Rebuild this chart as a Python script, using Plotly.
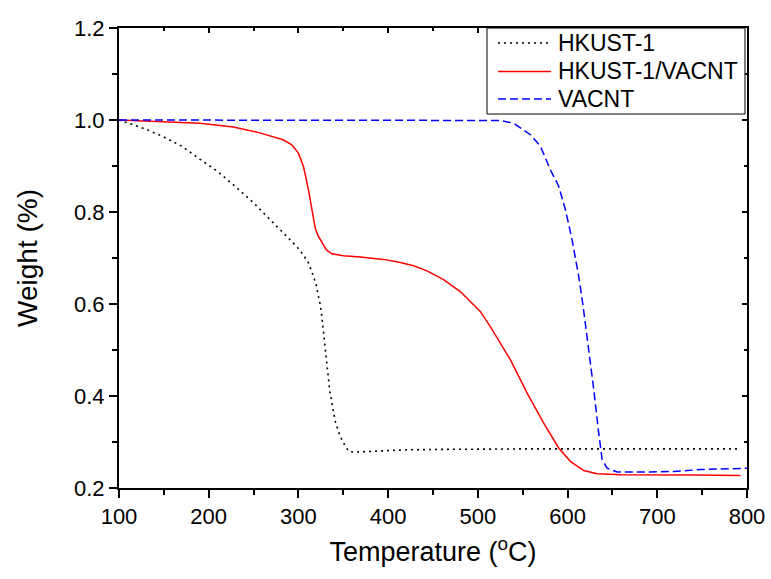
import plotly.graph_objects as go

# TGA curves: temperature (°C) vs. normalised weight
series_names = ["HKUST-1", "HKUST-1/VACNT", "VACNT"]

t_hkust = [100, 116, 130, 149, 170, 188.5, 210, 227.5, 250, 266.6, 282, 298, 305, 311,
           316.8, 320, 322.3, 324.2, 326.1, 330, 335, 341, 346, 350.2, 355.8, 361.4,
           380, 420, 460, 502.7, 550, 600, 700, 790]
w_hkust = [1.0, 0.99, 0.98, 0.964, 0.943, 0.917, 0.888, 0.859, 0.82, 0.787, 0.757, 0.725,
           0.708, 0.69, 0.66, 0.64, 0.617, 0.6, 0.573, 0.5, 0.41, 0.345, 0.315, 0.298,
           0.28, 0.278, 0.28, 0.283, 0.284, 0.285, 0.285, 0.285, 0.285, 0.285]

t_comp = [100, 150, 190, 227.5, 257, 283, 292.6, 300, 305.6, 311.2, 318.7, 322, 326.1,
          331, 337.3, 350, 368.9, 394.9, 413.5, 428.3, 443.2, 461.8, 480.4, 491.6, 502.7,
          513.9, 536.2, 554.8, 573.4, 590.1, 603.1, 618, 632.9, 660, 692.4, 740, 792.7]
w_comp = [1.0, 0.997, 0.993, 0.985, 0.972, 0.957, 0.946, 0.928, 0.899, 0.848, 0.765,
          0.748, 0.733, 0.718, 0.709, 0.705, 0.702, 0.697, 0.69, 0.683, 0.672, 0.653,
          0.627, 0.605, 0.584, 0.551, 0.479, 0.407, 0.341, 0.287, 0.258, 0.238, 0.231,
          0.229, 0.229, 0.228, 0.227]

t_cnt = [100, 300, 502.7, 525, 539.9, 558.5, 569.7, 580.8, 590.1, 597.6, 605, 612.4, 617,
         621.7, 629.2, 634.7, 638.5, 644, 655.2, 692.4, 718.4, 748, 800]
w_cnt = [1.0, 1.0, 1.0, 0.999, 0.993, 0.968, 0.943, 0.892, 0.856, 0.805, 0.74, 0.66, 0.60,
         0.53, 0.414, 0.32, 0.262, 0.243, 0.235, 0.235, 0.236, 0.24, 0.243]

x_ticks = [100, 200, 300, 400, 500, 600, 700, 800]
y_ticks = [0.2, 0.4, 0.6, 0.8, 1.0, 1.2]

FONT = "Arial"
line_styles = [
    dict(color="black", width=1.6, dash="2px,4px"),
    dict(color="#ff0000", width=1.5),
    dict(color="#0000ff", width=1.5, dash="8px,4px"),
]

fig = go.Figure()
for name, xs, ys, ls in zip(series_names, [t_hkust, t_comp, t_cnt],
                            [w_hkust, w_comp, w_cnt], line_styles):
    fig.add_trace(go.Scatter(x=xs, y=ys, mode="lines", name=name, line=ls,
                             showlegend=False))
# empty trace so the top/right tick axes are created
fig.add_trace(go.Scatter(x=[], y=[], xaxis="x2", yaxis="y2", showlegend=False,
                         hoverinfo="skip"))

# compact framed legend in the upper-right corner (paper coordinates)
box_x0, box_x1, box_y0, box_y1 = 0.586, 0.9968, 0.813, 1.0
sample_x0, sample_x1, text_x = 0.6035, 0.688, 0.6965
row_y = [0.9674, 0.9055, 0.8458]
shapes = [dict(type="rect", xref="paper", yref="paper", x0=box_x0, x1=box_x1,
               y0=box_y0, y1=box_y1, line=dict(color="black", width=1),
               fillcolor="white", layer="above")]
annotations = []
for name, ls, yy in zip(series_names, line_styles, row_y):
    shapes.append(dict(type="line", xref="paper", yref="paper", x0=sample_x0,
                       x1=sample_x1, y0=yy, y1=yy, line=ls, layer="above"))
    annotations.append(dict(text=name, xref="paper", yref="paper", x=text_x, y=yy,
                            xanchor="left", yanchor="middle", showarrow=False,
                            font=dict(family=FONT, size=23, color="black")))

axis_common = dict(showgrid=False, zeroline=False, linecolor="black", linewidth=2,
                   tickcolor="black", tickwidth=2, automargin=False,
                   tickfont=dict(family=FONT, size=22, color="black"))

fig.update_layout(
    width=771, height=579,
    margin=dict(l=119, r=24, t=28, b=91),
    paper_bgcolor="white", plot_bgcolor="white",
    font=dict(family=FONT, color="black"),
    showlegend=False,
    shapes=shapes,
    annotations=annotations,
    xaxis=dict(range=[100, 800], tickvals=x_ticks, ticks="outside", ticklen=8,
               minor=dict(dtick=50, tick0=100, ticks="outside", ticklen=5,
                          tickwidth=2, tickcolor="black"),
               showline=True, mirror=True,
               title=dict(text="Temperature (<sup>o</sup>C)",
                          font=dict(family=FONT, size=27), standoff=14),
               **axis_common),
    yaxis=dict(range=[0.2, 1.2], tickvals=y_ticks, tickformat=".1f", ticks="outside",
               ticklen=8,
               minor=dict(dtick=0.1, tick0=0.2, ticks="outside", ticklen=5,
                          tickwidth=2, tickcolor="black"),
               showline=True, mirror=True,
               title=dict(text="Weight (%)", font=dict(family=FONT, size=28), standoff=28),
               **axis_common),
    xaxis2=dict(range=[100, 800], overlaying="x", side="top", tickvals=x_ticks,
                ticks="inside", ticklen=5, showticklabels=False, showline=False,
                showgrid=False, zeroline=False, tickcolor="black", tickwidth=2,
                automargin=False,
                minor=dict(dtick=50, tick0=100, ticks="inside", ticklen=3,
                           tickwidth=2, tickcolor="black")),
    yaxis2=dict(range=[0.2, 1.2], overlaying="y", side="right", tickvals=y_ticks,
                ticks="inside", ticklen=5, showticklabels=False, showline=False,
                showgrid=False, zeroline=False, tickcolor="black", tickwidth=2,
                automargin=False,
                minor=dict(dtick=0.1, tick0=0.2, ticks="inside", ticklen=3,
                           tickwidth=2, tickcolor="black")),
)

fig.write_html("out.html")
